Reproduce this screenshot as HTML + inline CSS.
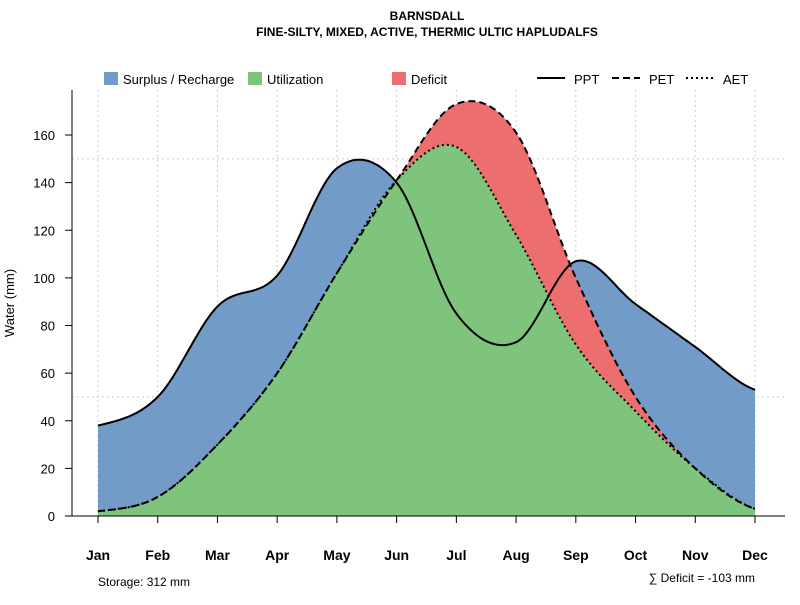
<!DOCTYPE html>
<html><head><meta charset="utf-8"><style>
body{margin:0;background:#fff;}
svg text{font-family:"Liberation Sans",sans-serif;}
</style></head><body>
<svg id="chart" width="800" height="600">
<text x="427" y="20" text-anchor="middle" font-size="12" font-weight="bold">BARNSDALL</text>
<text x="427" y="36" text-anchor="middle" font-size="12" font-weight="bold">FINE-SILTY, MIXED, ACTIVE, THERMIC ULTIC HAPLUDALFS</text>
<g id="grid"></g>
<g id="areas"></g>
<g id="lines"></g>
<g id="axes"></g>
<g>
<rect x="104" y="72" width="14" height="13" fill="#729bc8"/>
<text x="123" y="84" font-size="13">Surplus / Recharge</text>
<rect x="248" y="72" width="14" height="13" fill="#7fc47c"/>
<text x="267" y="84" font-size="13">Utilization</text>
<rect x="392" y="72" width="14" height="13" fill="#ed6e6e"/>
<text x="411" y="84" font-size="13">Deficit</text>
<line x1="537" y1="78" x2="565" y2="78" stroke="#000" stroke-width="2"/>
<text x="574" y="84" font-size="13">PPT</text>
<line x1="612" y1="78" x2="640" y2="78" stroke="#000" stroke-width="2" stroke-dasharray="7,4"/>
<text x="649" y="84" font-size="13">PET</text>
<line x1="686" y1="78" x2="714" y2="78" stroke="#000" stroke-width="2" stroke-dasharray="2,3"/>
<text x="723" y="84" font-size="13">AET</text>
</g>
<text x="98" y="586" font-size="12">Storage: 312 mm</text>
<text x="755" y="582" text-anchor="end" font-size="12">∑ Deficit = -103 mm</text>
<text transform="translate(14,303) rotate(-90)" text-anchor="middle" font-size="13">Water (mm)</text>
</svg>
<script>
const months=["Jan","Feb","Mar","Apr","May","Jun","Jul","Aug","Sep","Oct","Nov","Dec"];
const ppt=[38,50,88,101,146,140,85,73,107,89,71,53];
const pet=[2,8,30,60,102,141,173,161,100,50,20,3];
const aet=[2,8,30,60,102,141,155,118,72,44,20,3];
const yTicks=[0,20,40,60,80,100,120,140,160];
const NS="http://www.w3.org/2000/svg";
const xS=i=>98+i*(755-98)/11;
const yS=v=>516-v*(381/160);
function mk(tag,attrs,parent){const e=document.createElementNS(NS,tag);for(const k in attrs)e.setAttribute(k,attrs[k]);parent.appendChild(e);return e;}
function spline(vals){
  const pts=[];const n=vals.length;
  for(let i=0;i<n-1;i++){
    const p0=vals[Math.max(i-1,0)],p1=vals[i],p2=vals[i+1],p3=vals[Math.min(i+2,n-1)];
    for(let s=0;s<20;s++){const t=s/20,t2=t*t,t3=t2*t;
      const v=0.5*((2*p1)+(-p0+p2)*t+(2*p0-5*p1+4*p2-p3)*t2+(-p0+3*p1-3*p2+p3)*t3);
      pts.push([xS(i+t),yS(v)]);}
  }
  pts.push([xS(n-1),yS(vals[n-1])]);
  return pts;
}
const toLine=p=>"M"+p.map(q=>q[0].toFixed(1)+","+q[1].toFixed(1)).join("L");
const toArea=p=>toLine(p)+"L"+xS(11)+","+yS(0)+"L"+xS(0)+","+yS(0)+"Z";
const grid=document.getElementById("grid"),areas=document.getElementById("areas"),lines=document.getElementById("lines"),axes=document.getElementById("axes");
months.forEach((m,i)=>{const g=mk("line",{x1:xS(i),x2:xS(i),y1:90,y2:516,stroke:"#ccc","stroke-dasharray":"2,3"},grid);

});
[50,150].forEach(v=>{const g=mk("line",{x1:72,x2:785,y1:yS(v),y2:yS(v),stroke:"#ccc","stroke-dasharray":"2,3"},grid);

});
const pP=spline(ppt),pE=spline(pet),pA=spline(aet);
let a=mk("path",{d:toArea(pP),fill:"#729bc8"},areas);


a=mk("path",{d:toArea(pE),fill:"#ed6e6e"},areas);


a=mk("path",{d:toArea(pA),fill:"#7fc47c"},areas);


let l=mk("path",{d:toLine(pP),fill:"none",stroke:"#000","stroke-width":2},lines);


l=mk("path",{d:toLine(pE),fill:"none",stroke:"#000","stroke-width":2,"stroke-dasharray":"7,4"},lines);


l=mk("path",{d:toLine(pA),fill:"none",stroke:"#000","stroke-width":2,"stroke-dasharray":"2,3"},lines);


let ax=mk("line",{x1:72,x2:72,y1:90,y2:516,stroke:"#000"},axes);


ax=mk("line",{x1:72,x2:785,y1:516,y2:516,stroke:"#000"},axes);


yTicks.forEach(v=>{const t=mk("line",{x1:65,x2:72,y1:yS(v),y2:yS(v),stroke:"#000"},axes);


const tx=mk("text",{x:55,y:yS(v)+5,"text-anchor":"end","font-size":13},axes);tx.textContent=v;

});
months.forEach((m,i)=>{const t=mk("line",{x1:xS(i),x2:xS(i),y1:516,y2:523,stroke:"#000"},axes);


const tx=mk("text",{x:xS(i),y:560,"text-anchor":"middle","font-size":14,"font-weight":"bold"},axes);tx.textContent=m;

});
</script>
</body></html>
